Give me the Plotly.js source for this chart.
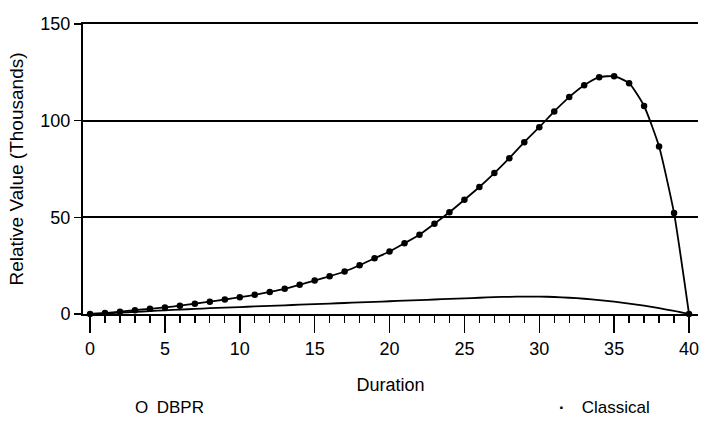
<!DOCTYPE html>
<html>
<head>
<meta charset="utf-8">
<script src="https://cdn.plot.ly/plotly-3.0.1.min.js"></script>
<style>
  html, body { margin: 0; padding: 0; background: #fff; }
  #chart { width: 712px; height: 428px; }
</style>
</head>
<body>
<div id="chart"></div>
<script>
// Duration (x values)
const duration = [0,1,2,3,4,5,6,7,8,9,10,11,12,13,14,15,16,17,18,19,20,
                  21,22,23,24,25,26,27,28,29,30,31,32,33,34,35,36,37,38,39,40];
// Classical series (thousands)
const classical = [0,0.5,1.2,2.0,2.7,3.4,4.3,5.3,6.4,7.5,8.7,9.9,11.4,13.0,15.1,17.3,19.5,22.0,25.2,28.8,32.3,
                   36.6,41.0,46.7,52.6,59.1,65.7,72.9,80.6,88.9,96.6,104.8,112.2,118.3,122.5,123.0,119.4,107.6,86.6,52.2,0];
// DBPR series (thousands)
const dbpr = [0,0.3,0.7,1.1,1.5,1.9,2.3,2.6,3.0,3.3,3.6,3.9,4.2,4.5,4.8,5.1,5.4,5.7,6.0,6.3,6.6,
              6.9,7.2,7.5,7.8,8.1,8.4,8.7,8.9,9.0,9.0,8.8,8.4,7.9,7.2,6.4,5.4,4.3,3.0,1.6,0];
// Tick labels
const xTickVals = [0,5,10,15,20,25,30,35,40];
const xTickText = ["0","5","10","15","20","25","30","35","40"];
const yTickVals = [0,50,100,150];
const yTickText = ["0","50","100","150"];
const seriesNames = ["DBPR", "Classical"];

const FONT = "Liberation Sans, Arial, Helvetica, sans-serif";

const traces = [
  {
    x: duration, y: dbpr, name: seriesNames[0], type: "scatter", mode: "lines",
    line: { color: "#000", width: 1.8, shape: "spline", smoothing: 0.6 },
    cliponaxis: false, showlegend: false
  },
  {
    x: duration, y: classical, name: seriesNames[1], type: "scatter", mode: "lines+markers",
    line: { color: "#000", width: 1.8, shape: "spline", smoothing: 0.5 },
    marker: { color: "#000", size: 6.5 },
    cliponaxis: false, showlegend: false
  }
];

const layout = {
  width: 712, height: 428,
  margin: { l: 83, r: 14, t: 24, b: 113.5 },
  paper_bgcolor: "#fff", plot_bgcolor: "#fff",
  font: { family: FONT, size: 18, color: "#000" },
  showlegend: false,
  xaxis: {
    range: [-0.47, 40.6],
    tickvals: xTickVals, ticktext: xTickText,
    ticks: "outside", ticklen: 17, tickwidth: 1.5, tickcolor: "#000",
    minor: { dtick: 1, ticks: "outside", ticklen: 7, tickwidth: 1.3, tickcolor: "#000", showgrid: false },
    showgrid: false, zeroline: false,
    showline: true, mirror: true, linecolor: "#000", linewidth: 2,
    tickfont: { family: FONT, size: 18, color: "#000" },
    title: { text: "Duration", font: { family: FONT, size: 18, color: "#000" }, standoff: 21 },
    automargin: true
  },
  yaxis: {
    range: [0, 150],
    tickvals: yTickVals, ticktext: yTickText,
    ticks: "outside", ticklen: 7, tickwidth: 1.5, tickcolor: "#000",
    showgrid: true, gridcolor: "#000", gridwidth: 2,
    zeroline: false,
    showline: true, linecolor: "#000", linewidth: 2,
    tickfont: { family: FONT, size: 18, color: "#000" },
    title: { text: "Relative Value (Thousands)", font: { family: FONT, size: 19, color: "#000" }, standoff: 12 },
    automargin: true
  },
  annotations: [
    { xref: "paper", yref: "paper", x: (133 - 83) / 615, y: (314.5 - 408) / 290.5,
      xanchor: "left", yanchor: "middle", showarrow: false,
      text: "O\u2002" + seriesNames[0], font: { family: FONT, size: 17, color: "#000" } },
    { xref: "paper", yref: "paper", x: (557 - 83) / 615, y: (314.5 - 408) / 290.5,
      xanchor: "left", yanchor: "middle", showarrow: false,
      text: "<b>\u00b7</b>\u2002\u2002" + seriesNames[1], font: { family: FONT, size: 17, color: "#000" } }
  ]
};

Plotly.newPlot("chart", traces, layout, { displayModeBar: false, staticPlot: true });
</script>
</body>
</html>
